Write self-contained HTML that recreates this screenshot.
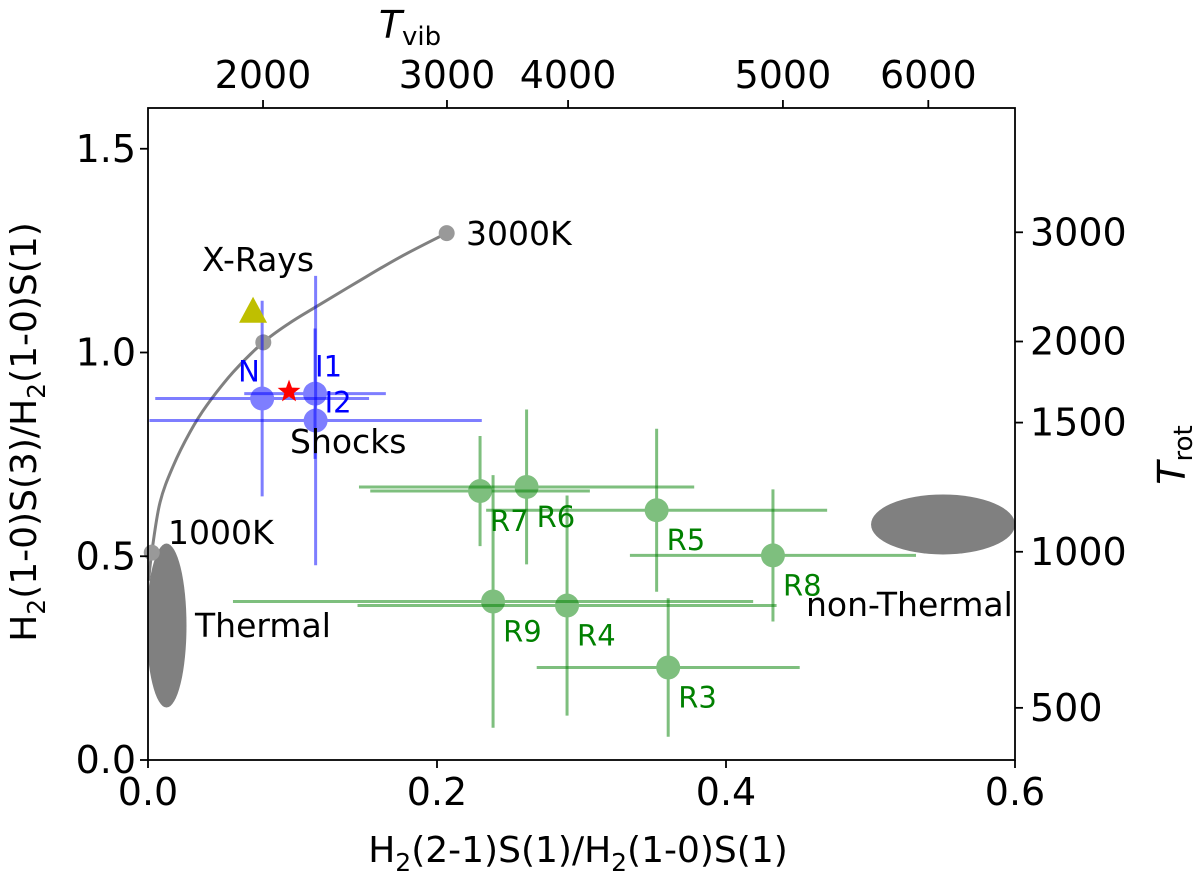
<!DOCTYPE html>
<html><head><meta charset="utf-8"><style>
html,body{margin:0;padding:0;background:#fff}
svg{display:block;font-family:"DejaVu Sans","Liberation Sans",sans-serif}
</style></head><body>
<svg id="chart" width="1200" height="877" viewBox="0 0 1200 877" xmlns="http://www.w3.org/2000/svg">
<g id="plot"></g>
</svg>
<script>
// ---- data ----
const blueNames = ["N","I1","I2"];
const blueX = [0.079,0.1156,0.116];
const blueY = [0.887,0.899,0.833];
const blueXErr = [0.074,0.049,0.115];
const blueYErr = [0.24,0.16,0.355];
const greenNames = ["R7","R6","R5","R8","R9","R4","R3"];
const greenX = [0.2298,0.262,0.352,0.4325,0.2388,0.290,0.360];
const greenY = [0.660,0.670,0.613,0.502,0.389,0.379,0.227];
const greenXErr = [0.076,0.116,0.118,0.099,0.18,0.145,0.091];
const greenYErr = [0.135,0.19,0.2,0.162,0.31,0.27,0.17];
const curveX = [0.0004,0.0026,0.0083,0.0175,0.0291,0.0406,0.059,0.0798,0.0983,0.1167,0.1444,0.1744,0.2067];
const curveY = [0.44,0.509,0.632,0.722,0.805,0.870,0.952,1.025,1.073,1.113,1.172,1.234,1.293];
const curveMarkX = [0.0026,0.0798,0.2067];
const curveMarkY = [0.509,1.025,1.293];
const starX = 0.0976, starY = 0.904;
const triX = 0.0727, triY = 1.10;
const xTicks = [0.0,0.2,0.4,0.6];
const yTicks = [0.0,0.5,1.0,1.5];
const topTickLabels = ["2000","3000","4000","5000","6000"];
const topTickAt = [0.0796,0.2069,0.2907,0.4394,0.54];
const rightTickLabels = ["500","1000","1500","2000","3000"];
const rightTickAt = [0.128,0.511,0.828,1.027,1.295];

// ---- axes ----
const L=148,R=1015,T=108,B=760;
const X0=0,X1=0.6,Y0=0,Y1=1.6;
const sx=v=>L+(v-X0)/(X1-X0)*(R-L);
const sy=v=>B-(v-Y0)/(Y1-Y0)*(B-T);
const NS="http://www.w3.org/2000/svg";
const g=document.getElementById('plot');
function mk(tag,attrs,parent){const e=document.createElementNS(NS,tag);for(const k in attrs)e.setAttribute(k,attrs[k]);(parent||g).appendChild(e);return e;}
function txt(s,x,y,attrs){const e=mk('text',Object.assign({x:x,y:y},attrs));e.textContent=s;return e;}

const defs=mk('defs',{});
const cp=mk('clipPath',{id:'clip'},defs);
mk('rect',{x:L,y:T,width:R-L,height:B-T},cp);

// ellipses
let e=mk('ellipse',{cx:sx(0.0128),cy:sy(0.33),rx:20,ry:82,fill:'#808080','clip-path':'url(#clip)'});


e=mk('ellipse',{cx:sx(0.5502),cy:sy(0.578),rx:72,ry:30,fill:'#808080','clip-path':'url(#clip)'});



// model curve
let d=curveX.map((v,i)=>[sx(v),sy(curveY[i])]);
let p='M'+d[0][0]+','+d[0][1];
for(let i=0;i<d.length-1;i++){const p0=d[Math.max(0,i-1)],p1=d[i],p2=d[i+1],p3=d[Math.min(d.length-1,i+2)];
p+=' C'+(p1[0]+(p2[0]-p0[0])/6)+','+(p1[1]+(p2[1]-p0[1])/6)+' '+(p2[0]-(p3[0]-p1[0])/6)+','+(p2[1]-(p3[1]-p1[1])/6)+' '+p2[0]+','+p2[1];}
e=mk('path',{d:p,fill:'none',stroke:'#808080','stroke-width':3});


curveMarkX.forEach((v,i)=>{const c=mk('circle',{cx:sx(v),cy:sy(curveMarkY[i]),r:8,fill:'#999'});

});

function errPoint(x,y,xe,ye,col,name){
  const gg=mk('g',{opacity:0.5});
  
  
  mk('line',{x1:sx(x-xe),x2:sx(x+xe),y1:sy(y),y2:sy(y),stroke:col,'stroke-width':3},gg);
  mk('line',{x1:sx(x),x2:sx(x),y1:sy(y-ye),y2:sy(y+ye),stroke:col,'stroke-width':3},gg);
  mk('circle',{cx:sx(x),cy:sy(y),r:12,fill:col},gg);
}
blueX.forEach((v,i)=>errPoint(v,blueY[i],blueXErr[i],blueYErr[i],'#0000ff','point-'+blueNames[i]));
greenX.forEach((v,i)=>errPoint(v,greenY[i],greenXErr[i],greenYErr[i],'#008000','point-'+greenNames[i]));

// labels
const blueOff=[[-24,-17],[0,-17],[9,-8]];
blueNames.forEach((n,i)=>{const t=txt(n,sx(blueX[i])+blueOff[i][0],sy(blueY[i])+blueOff[i][1],{fill:'#0000ff','font-size':29});

});
greenNames.forEach((n,i)=>{const t=txt(n,sx(greenX[i])+10,sy(greenY[i])+40,{fill:'#008000','font-size':29});

});

// star & triangle
const cxs=sx(starX),cys=sy(starY);let sp='';
for(let k=0;k<10;k++){const r=k%2?5:12,a=-Math.PI/2+k*Math.PI/5;sp+=(cxs+r*Math.cos(a))+','+(cys+r*Math.sin(a))+' ';}
e=mk('polygon',{points:sp,fill:'#ff0000'});


const tx=sx(triX),ty=sy(triY);
e=mk('polygon',{points:(tx)+','+(ty-15)+' '+(tx-14)+','+(ty+11)+' '+(tx+14)+','+(ty+11),fill:'#bfbf00'});



// annotations
[["X-Rays",202,271],["Shocks",290,453],["1000K",168,544],["3000K",466,245],["Thermal",195,637],["non-Thermal",806,616]].forEach(a=>{
const t=txt(a[0],a[1],a[2],{fill:'#000','font-size':33});

});

// frame
e=mk('rect',{x:L,y:T,width:R-L,height:B-T,fill:'none',stroke:'#000','stroke-width':1.8});



// ticks
xTicks.forEach(v=>{mk('line',{x1:sx(v),x2:sx(v),y1:B,y2:B+8,stroke:'#000','stroke-width':1.8});
const t=txt(v.toFixed(1),sx(v),B+45,{'font-size':38,'text-anchor':'middle'});

});
yTicks.forEach(v=>{mk('line',{x1:L-8,x2:L,y1:sy(v),y2:sy(v),stroke:'#000','stroke-width':1.8});
const t=txt(v.toFixed(1),L-12,sy(v)+13,{'font-size':38,'text-anchor':'end'});

});
topTickAt.forEach((v,i)=>{mk('line',{x1:sx(v),x2:sx(v),y1:T-8,y2:T,stroke:'#000','stroke-width':1.8});
const t=txt(topTickLabels[i],sx(v),T-20,{'font-size':38,'text-anchor':'middle'});

});
rightTickAt.forEach((v,i)=>{mk('line',{x1:R,x2:R+8,y1:sy(v),y2:sy(v),stroke:'#000','stroke-width':1.8});
const t=txt(rightTickLabels[i],R+15,sy(v)+13,{'font-size':38});

});

// axis titles
let t=mk('text',{x:578,y:862,'font-size':36,'text-anchor':'middle'});
t.innerHTML='H<tspan font-size="25" dy="9">2</tspan><tspan dy="-9">(2-1)S(1)/H</tspan><tspan font-size="25" dy="9">2</tspan><tspan dy="-9">(1-0)S(1)</tspan>';


t=mk('text',{x:0,y:0,'font-size':36,'text-anchor':'middle',transform:'translate(36,432) rotate(-90)'});
t.innerHTML='H<tspan font-size="25" dy="9">2</tspan><tspan dy="-9">(1-0)S(3)/H</tspan><tspan font-size="25" dy="9">2</tspan><tspan dy="-9">(1-0)S(1)</tspan>';


t=mk('text',{x:410,y:38,'font-size':38,'text-anchor':'middle'});
t.innerHTML='<tspan font-style="italic">T</tspan><tspan font-size="26" dy="7">vib</tspan>';


t=mk('text',{x:0,y:0,'font-size':38,'text-anchor':'middle',transform:'translate(1185,455) rotate(-90)'});
t.innerHTML='<tspan font-style="italic">T</tspan><tspan font-size="26" dy="7">rot</tspan>';


</script>
</body></html>
